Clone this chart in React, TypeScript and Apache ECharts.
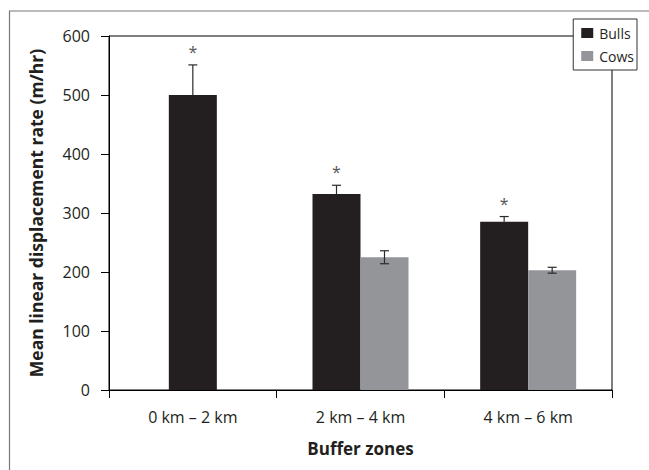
import React, { useEffect, useRef } from "react";
import * as echarts from "echarts";

const categories = ["0 km – 2 km", "2 km – 4 km", "4 km – 6 km"];
const bulls = [500, 332, 285];
const bullsErr = [51, 15, 9];
const cows: (number | null)[] = [null, 225, 203];
const cowsErr: (number | null)[] = [null, 11, 5];
const significant = [true, true, true];
const yTicks = { min: 0, max: 600, interval: 100 };

const FONT = "Open Sans";
const BULL_COLOR = "#231f20";
const COW_COLOR = "#939598";
const BAR_W = 48;

export default function App() {
  const ref = useRef<HTMLDivElement>(null);
  useEffect(() => {
    if (!ref.current) return;
    const chart = echarts.init(ref.current, null, { renderer: "svg" });

    const bullsSolo = bulls.map((v, i) => (cows[i] == null ? v : null));
    const bullsPair = bulls.map((v, i) => (cows[i] == null ? null : v));

    // error bar rows: [category, value, err, offset(-1,0,1), star, drawLower]
    const errRows: any[] = [];
    bulls.forEach((v, i) => {
      const off = cows[i] == null ? 0 : -1;
      errRows.push([i, v, bullsErr[i], off, significant[i] ? 1 : 0, 0]);
      if (cows[i] != null) errRows.push([i, cows[i], cowsErr[i], 1, 0, 1]);
    });

    const option: any = {
      animation: false,
      backgroundColor: "#ffffff",
      textStyle: { fontFamily: FONT },
      graphic: [
        {
          type: "rect",
          shape: { x: 9.5, y: 11, width: 700, height: 500 },
          style: { fill: "none", stroke: "#777", lineWidth: 1.2 },
          z: -10,
        },
      ],
      grid: {
        left: 109,
        top: 36,
        right: 37,
        bottom: 80,
        show: true,
        borderColor: "#000",
        borderWidth: 1,
        backgroundColor: "transparent",
      },
      legend: {
        data: ["Bulls", "Cows"],
        orient: "vertical",
        right: 12,
        top: 19,
        padding: [7, 3, 7, 8],
        itemWidth: 12,
        itemHeight: 10,
        itemGap: 9,
        icon: "rect",
        backgroundColor: "#fff",
        borderColor: "#333",
        borderWidth: 1,
        borderRadius: 0,
        textStyle: { fontFamily: FONT, fontSize: 14, color: "#231f20", padding: [0, 0, 0, 1] },
        z: 10,
      },
      xAxis: [
        {
          type: "category",
          data: categories,
          boundaryGap: true,
          name: "Buffer zones",
          nameLocation: "middle",
          nameGap: 50,
          nameTextStyle: { fontFamily: FONT, fontSize: 17, fontWeight: "bold", color: "#231f20" },
          axisLine: { lineStyle: { color: "#000", width: 1 } },
          axisTick: { show: true, length: 8, lineStyle: { color: "#000" } },
          axisLabel: { fontFamily: FONT, fontSize: 16, color: "#231f20", margin: 19 },
          splitLine: { show: false },
        },
        {
          type: "category",
          data: categories,
          show: false,
          position: "bottom",
        },
      ],
      yAxis: {
        type: "value",
        min: yTicks.min,
        max: yTicks.max,
        interval: yTicks.interval,
        name: "Mean linear displacement rate (m/hr)",
        nameLocation: "middle",
        nameGap: 64,
        nameTextStyle: { fontFamily: FONT, fontSize: 17.5, fontWeight: "bold", color: "#231f20" },
        axisLine: { show: true, lineStyle: { color: "#000", width: 1 } },
        axisTick: { show: true, length: 8, lineStyle: { color: "#000" } },
        axisLabel: { fontFamily: FONT, fontSize: 16, color: "#231f20", margin: 19 },
        splitLine: { show: false },
      },
      series: [
        {
          name: "Bulls",
          type: "bar",
          xAxisIndex: 1,
          data: bullsSolo,
          barWidth: BAR_W,
          itemStyle: { color: BULL_COLOR },
        },
        {
          name: "Bulls",
          type: "bar",
          xAxisIndex: 0,
          data: bullsPair,
          barWidth: BAR_W,
          barGap: "0%",
          itemStyle: { color: BULL_COLOR },
        },
        {
          name: "Cows",
          type: "bar",
          xAxisIndex: 0,
          data: cows,
          barWidth: BAR_W,
          barGap: "0%",
          itemStyle: { color: COW_COLOR },
        },
        {
          type: "custom",
          xAxisIndex: 0,
          data: errRows,
          encode: { x: 0, y: 1 },
          z: 5,
          silent: true,
          renderItem: (params: any, api: any) => {
            const cat = api.value(0);
            const v = api.value(1);
            const e = api.value(2);
            const off = api.value(3);
            const star = api.value(4);
            const lower = api.value(5);
            const top = api.coord([cat, v + e]);
            const mid = api.coord([cat, v]);
            const bot = api.coord([cat, v - e]);
            const x = top[0] + (off * BAR_W) / 2;
            const cap = 4.5;
            const stroke = "#2a2a2a";
            const children: any[] = [
              { type: "line", shape: { x1: x, y1: top[1], x2: x, y2: lower ? bot[1] : mid[1] }, style: { stroke, lineWidth: 1.2 } },
              { type: "line", shape: { x1: x - cap, y1: top[1], x2: x + cap, y2: top[1] }, style: { stroke, lineWidth: 1.2 } },
            ];
            if (lower) {
              children.push({ type: "line", shape: { x1: x - cap, y1: bot[1], x2: x + cap, y2: bot[1] }, style: { stroke, lineWidth: 1.2 } });
            }
            if (star) {
              children.push({
                type: "text",
                x: x,
                y: top[1] - 21,
                style: {
                  text: "*",
                  fill: "#555",
                  fontFamily: FONT,
                  fontSize: 16,
                  align: "center",
                  verticalAlign: "top",
                },
              });
            }
            return { type: "group", children };
          },
        },
      ],
    };
    chart.setOption(option);
    return () => chart.dispose();
  }, []);
  return (
    <div
      ref={ref}
      style={{ position: "fixed", left: 0, top: 0, width: 649, height: 470 }}
    />
  );
}
